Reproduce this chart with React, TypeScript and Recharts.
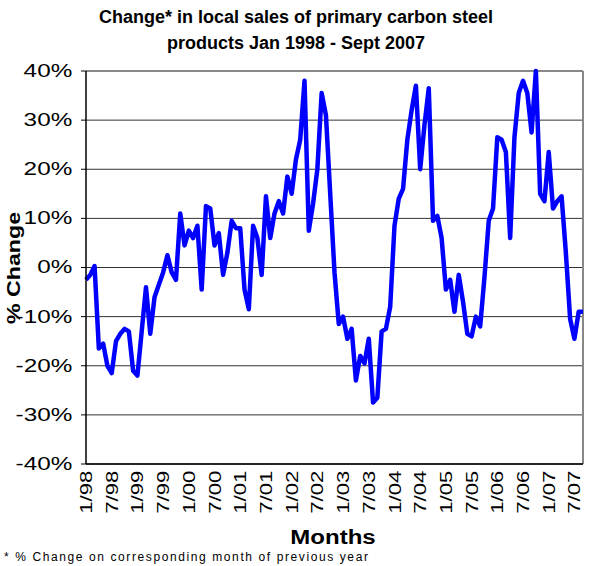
import React from 'react';
import { LineChart, Line, XAxis, YAxis, CartesianGrid, ReferenceLine } from 'recharts';

// two-digit years, Jan 1998 .. Sept 2007
const years = ['98', '99', '00', '01', '02', '03', '04', '05', '06', '07'];

// % change on corresponding month of previous year
const change = [
  -2.5, -1.5, 0.3, -16.5, -15.5, -20, -21.5, -15, -13.5, -12.5, -13, -21,
  -22, -13, -4, -13.5, -6, -3.5, -1, 2.5, -1, -2.5, 11, 4.5,
  7.5, 6, 8.5, -4.5, 12.5, 12, 4.5, 7, -1.5, 3, 9.5, 8,
  8, -4.5, -8.5, 8.5, 6, -1.5, 14.5, 6, 11, 13.5, 11, 18.5,
  15, 22, 26, 38, 7.5, 13, 20, 35.5, 31, 15, -1, -11.5,
  -10, -14.5, -12.5, -23, -18, -19.5, -14.5, -27.5, -26.5, -13, -12.5, -8,
  8.5, 14, 16, 26, 32, 37, 20, 29, 36.5, 9.5, 10.5, 6,
  -4.5, -2.5, -9, -1.5, -7, -13.5, -14, -10, -12, -2, 9.5, 12,
  26.5, 26, 23.5, 6, 26.5, 35.5, 38, 35.5, 27.5, 40, 15, 13.5,
  23.5, 12, 13.5, 14.5, 3, -10.5, -14.5, -9, -9,
];

const tickLabels = [
  '1/98', '7/98', '1/99', '7/99', '1/00', '7/00', '1/01', '7/01', '1/02', '7/02',
  '1/03', '7/03', '1/04', '7/04', '1/05', '7/05', '1/06', '7/06', '1/07', '7/07',
];
const yTicks = [-40, -30, -20, -10, 0, 10, 20, 30, 40];

const months: string[] = [];
years.forEach(yr => {
  for (let m = 1; m <= 12; m++) months.push(`${m}/${yr}`);
});
const data = change.map((v, i) => ({ month: months[i], value: v }));

const FONT = '"Liberation Sans", Arial, sans-serif';

// the original's labels are drawn wide, so stretch them along the text direction
const MonthTick = (props: any) => {
  const { x, y, payload } = props;
  return (
    <g transform={`translate(${x}, ${y}) rotate(-90)`}>
      <text
        x={1}
        y={0}
        transform="scale(1.3, 1)"
        textAnchor="end"
        dominantBaseline="central"
        fontFamily={FONT}
        fontSize={17}
        fill="#000"
      >
        {payload.value}
      </text>
    </g>
  );
};

const PercentTick = (props: any) => {
  const { x, y, payload } = props;
  return (
    <g transform={`translate(${x}, ${y})`}>
      <text
        x={-5}
        y={0}
        transform="scale(1.35, 1)"
        textAnchor="end"
        dominantBaseline="central"
        fontFamily={FONT}
        fontSize={18}
        fill="#000"
      >
        {`${payload.value}%`}
      </text>
    </g>
  );
};

export default function App() {
  return (
    <div style={{ position: 'absolute', left: 0, top: 0, width: 592, height: 566, background: '#fff', fontFamily: FONT }}>
      <div
        style={{
          position: 'absolute', left: 0, top: 4, width: 592, textAlign: 'center',
          fontWeight: 'bold', fontSize: 18, lineHeight: '26px',
        }}
      >
        Change* in local sales of primary carbon steel
        <br />
        products Jan 1998 - Sept 2007
      </div>

      <LineChart width={592} height={566} data={data} margin={{ top: 71, right: 9, bottom: 0, left: 0 }}>
        <CartesianGrid horizontal vertical={false} stroke="#333" strokeWidth={1} />
        <XAxis
          dataKey="month"
          ticks={tickLabels}
          interval={0}
          height={102}
          tickLine={false}
          axisLine={{ stroke: '#000', strokeWidth: 1.5 }}
          tick={<MonthTick />}
        />
        <YAxis
          type="number"
          domain={[-40, 40]}
          ticks={yTicks}
          interval={0}
          width={86}
          tickSize={5}
          tickLine={{ stroke: '#000' }}
          axisLine={{ stroke: '#000', strokeWidth: 1.5 }}
          tick={<PercentTick />}
        />
        <ReferenceLine y={40} stroke="#888" strokeWidth={2} />
        <ReferenceLine x={months[change.length - 1]} stroke="#888" strokeWidth={2} />
        <Line
          type="linear"
          dataKey="value"
          stroke="#0000FF"
          strokeWidth={4.5}
          strokeLinejoin="round"
          dot={false}
          isAnimationActive={false}
        />
      </LineChart>

      <div
        style={{
          position: 'absolute', left: 14, top: 268, transform: 'translate(-50%, -50%) rotate(-90deg) scale(1.22, 1)',
          fontWeight: 'bold', fontSize: 19, whiteSpace: 'nowrap',
        }}
      >
        % Change
      </div>
      <div
        style={{
          position: 'absolute', left: 333, top: 537, transform: 'translate(-50%, -50%) scale(1.2, 1)',
          fontWeight: 'bold', fontSize: 20, whiteSpace: 'nowrap',
        }}
      >
        Months
      </div>
      <div
        style={{
          position: 'absolute', left: 4, top: 550, fontSize: 12, letterSpacing: '1.6px', whiteSpace: 'nowrap',
        }}
      >
        * % Change on corresponding month of previous year
      </div>
    </div>
  );
}
